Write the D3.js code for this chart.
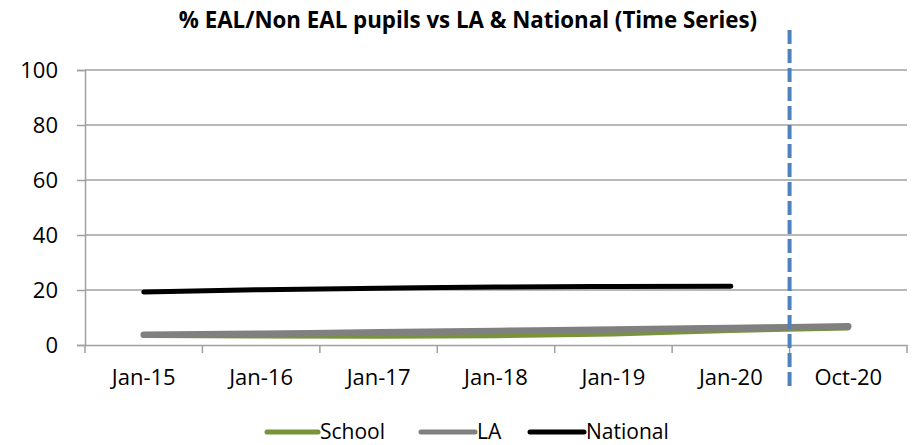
<!DOCTYPE html>
<html>
<head>
<meta charset="utf-8">
<script src="https://cdn.jsdelivr.net/npm/d3@7"></script>
<style>
  body { margin: 0; background: #fff; }
  text { font-family: "Open Sans", sans-serif; fill: #000; }
</style>
</head>
<body>
<div id="maViz"></div>
<script>
// data
const categories = ["Jan-15", "Jan-16", "Jan-17", "Jan-18", "Jan-19", "Jan-20", "Oct-20"];
const school   = [3.5, 3.3, 3.2, 3.4, 4.0, 5.3, 6.2];
const la       = [3.7, 4.1, 4.6, 5.1, 5.6, 6.2, 6.8];
const national = [19.3, 20.1, 20.6, 21.1, 21.3, 21.4, null];
const yTicks = [0, 20, 40, 60, 80, 100];
const splitAfter = "Jan-20"; // dashed line after this category

const series = [
  {name: "School",   values: school,   color: "#77933c", width: 5},
  {name: "LA",       values: la,       color: "#808080", width: 6.5},
  {name: "National", values: national, color: "#000000", width: 5}
];

// dimensions
const width = 912, height = 445;
const margin = {top: 70, right: 5, bottom: 100, left: 85};
const gridColor = "#a0a0a0";

const svg = d3.select("#maViz")
  .append("svg")
    .attr("width", width)
    .attr("height", height);

// scales
const x = d3.scaleBand()
  .domain(categories)
  .range([margin.left, width - margin.right]);

const y = d3.scaleLinear()
  .domain([0, 100])
  .range([height - margin.bottom, margin.top]);

const xc = d => x(d) + x.bandwidth() / 2;

// title
svg.append("text")
  .attr("x", 468)
  .attr("y", 28)
  .attr("text-anchor", "middle")
  .style("font-weight", "bold")
  .style("font-size", "22.3px")
  .text("% EAL/Non EAL pupils vs LA & National (Time Series)");

// gridlines
svg.append("g")
  .selectAll("line")
  .data(yTicks.filter(t => t > 0))
  .join("line")
    .attr("x1", margin.left)
    .attr("x2", width - margin.right)
    .attr("y1", d => y(d))
    .attr("y2", d => y(d))
    .attr("stroke", gridColor)
    .attr("stroke-width", 1.5);

// y axis
const yAxis = svg.append("g")
  .attr("transform", `translate(${margin.left},0)`)
  .call(d3.axisLeft(y).tickValues(yTicks).tickSize(8).tickPadding(19));
yAxis.select(".domain").attr("stroke", gridColor).attr("stroke-width", 1.5);
yAxis.selectAll(".tick line").attr("stroke", gridColor).attr("stroke-width", 1.5);
yAxis.selectAll("text").style("font-size", "22px").style("font-family", "Open Sans");

// x axis: labels at centres, ticks on band boundaries
const xAxis = svg.append("g")
  .attr("transform", `translate(0,${y(0)})`)
  .call(d3.axisBottom(x).tickSize(0).tickPadding(24));
xAxis.select(".domain").attr("stroke", gridColor).attr("stroke-width", 1.5);
xAxis.selectAll("text").style("font-size", "22px").style("font-family", "Open Sans");

const bounds = categories.map(c => x(c)).concat([x(categories[categories.length - 1]) + x.bandwidth()]);
svg.append("g")
  .selectAll("line")
  .data(bounds)
  .join("line")
    .attr("x1", d => d).attr("x2", d => d)
    .attr("y1", y(0)).attr("y2", y(0) + 8)
    .attr("stroke", gridColor)
    .attr("stroke-width", 1.5);

// lines
const line = d3.line()
  .defined(d => d.v != null)
  .x(d => xc(d.c))
  .y(d => y(d.v))
  .curve(d3.curveMonotoneX);

svg.append("g")
  .selectAll("path")
  .data(series)
  .join("path")
    .attr("d", s => line(categories.map((c, i) => ({c: c, v: s.values[i]}))))
    .attr("fill", "none")
    .attr("stroke", s => s.color)
    .attr("stroke-width", s => s.width)
    .attr("stroke-linecap", "round")
    .attr("stroke-linejoin", "round");

// dashed separator
const sx = x(splitAfter) + x.bandwidth();
svg.append("line")
  .attr("x1", sx).attr("x2", sx)
  .attr("y1", 30).attr("y2", 388)
  .attr("stroke", "#4f81bd")
  .attr("stroke-width", 4)
  .attr("stroke-dasharray", "14,5");

// legend
const legendX = [267, 421, 530];
const legend = svg.append("g")
  .selectAll("g")
  .data(series)
  .join("g")
    .attr("transform", (d, i) => `translate(${legendX[i]},432)`);
legend.append("line")
  .attr("x1", 0).attr("x2", (d, i) => i == 0 ? 51 : 54)
  .attr("stroke", d => d.color)
  .attr("stroke-width", 5)
  .attr("stroke-linecap", "round");
legend.append("text")
  .attr("x", (d, i) => i == 0 ? 53 : 56)
  .attr("dy", "0.35em")
  .style("font-size", "21px")
  .text(d => d.name);
</script>
</body>
</html>
